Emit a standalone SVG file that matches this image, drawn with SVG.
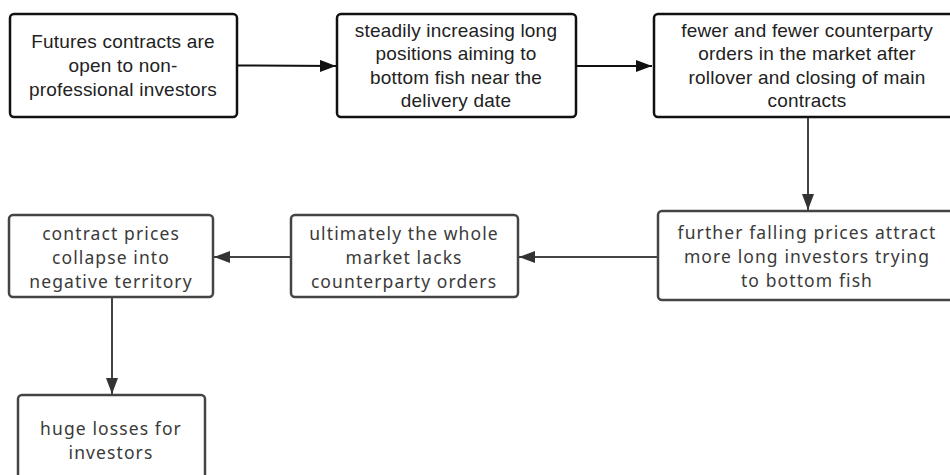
<svg xmlns="http://www.w3.org/2000/svg" width="950" height="475" viewBox="0 0 950 475">
<style>
.b1{fill:#fff;stroke:#111;stroke-width:2.5}
.b2{fill:#fff;stroke:#444;stroke-width:2.5}
.t1{font-family:"Liberation Sans",Arial,sans-serif;font-size:19px;letter-spacing:0.2px;fill:#222;text-anchor:middle}
.t2{font-family:"Noto Sans","Open Sans",sans-serif;font-size:17.5px;letter-spacing:1.1px;fill:#3a3a3a;text-anchor:middle}
.c1{stroke:#111;stroke-width:2;fill:none}
.c2{stroke:#444;stroke-width:2;fill:none}
</style>
<defs>
<marker id="a1" viewBox="0 0 16 12" refX="16" refY="6" markerWidth="16" markerHeight="12" markerUnits="userSpaceOnUse" orient="auto"><path d="M0,0 L16,6 L0,12 z" fill="#111"/></marker>
<marker id="a2" viewBox="0 0 16 12" refX="16" refY="6" markerWidth="16" markerHeight="12" markerUnits="userSpaceOnUse" orient="auto"><path d="M0,0 L16,6 L0,12 z" fill="#333"/></marker>
</defs>
<rect width="950" height="475" fill="#fff"/>
<g id="connectors">
<line class="c1" x1="237" y1="65.5" x2="336" y2="66" marker-end="url(#a1)"/>
<line class="c1" x1="576" y1="66" x2="652" y2="66" marker-end="url(#a1)"/>
<line class="c2" x1="808" y1="117" x2="808" y2="210" marker-end="url(#a2)"/>
<line class="c2" x1="658" y1="257" x2="519" y2="257" marker-end="url(#a2)"/>
<line class="c2" x1="291" y1="257" x2="214" y2="257" marker-end="url(#a2)"/>
<line class="c2" x1="112" y1="297" x2="112" y2="394" marker-end="url(#a2)"/>
</g>
<g id="n1">
<rect class="b1" x="10" y="14" width="227" height="103" rx="4"/>
<text class="t1"><tspan x="123" y="48">Futures contracts are</tspan><tspan x="123" y="72">open to non-</tspan><tspan x="123" y="96">professional investors</tspan></text>
</g>
<g id="n2">
<rect class="b1" x="337" y="14" width="239" height="103" rx="4"/>
<text class="t1"><tspan x="456" y="37">steadily increasing long</tspan><tspan x="456" y="60">positions aiming to</tspan><tspan x="456" y="84">bottom fish near the</tspan><tspan x="456" y="107">delivery date</tspan></text>
</g>
<g id="n3">
<rect class="b1" x="654" y="14" width="310" height="103" rx="4"/>
<text class="t1"><tspan x="807" y="37">fewer and fewer counterparty</tspan><tspan x="807" y="60">orders in the market after</tspan><tspan x="807" y="84">rollover and closing of main</tspan><tspan x="807" y="107">contracts</tspan></text>
</g>
<g id="n4">
<rect class="b2" x="658" y="211" width="300" height="89" rx="4"/>
<text class="t2"><tspan x="807" y="239">further falling prices attract</tspan><tspan x="807" y="263">more long investors trying</tspan><tspan x="807" y="287">to bottom fish</tspan></text>
</g>
<g id="n5">
<rect class="b2" x="291" y="215" width="227" height="82" rx="4"/>
<text class="t2"><tspan x="404" y="240">ultimately the whole</tspan><tspan x="404" y="264">market lacks</tspan><tspan x="404" y="288">counterparty orders</tspan></text>
</g>
<g id="n6">
<rect class="b2" x="9" y="215" width="204" height="82" rx="4"/>
<text class="t2"><tspan x="111" y="240">contract prices</tspan><tspan x="111" y="264">collapse into</tspan><tspan x="111" y="288">negative territory</tspan></text>
</g>
<g id="n7">
<rect class="b2" x="18" y="395" width="187" height="100" rx="4"/>
<text class="t2"><tspan x="111" y="435">huge losses for</tspan><tspan x="111" y="459">investors</tspan></text>
</g>
</svg>
